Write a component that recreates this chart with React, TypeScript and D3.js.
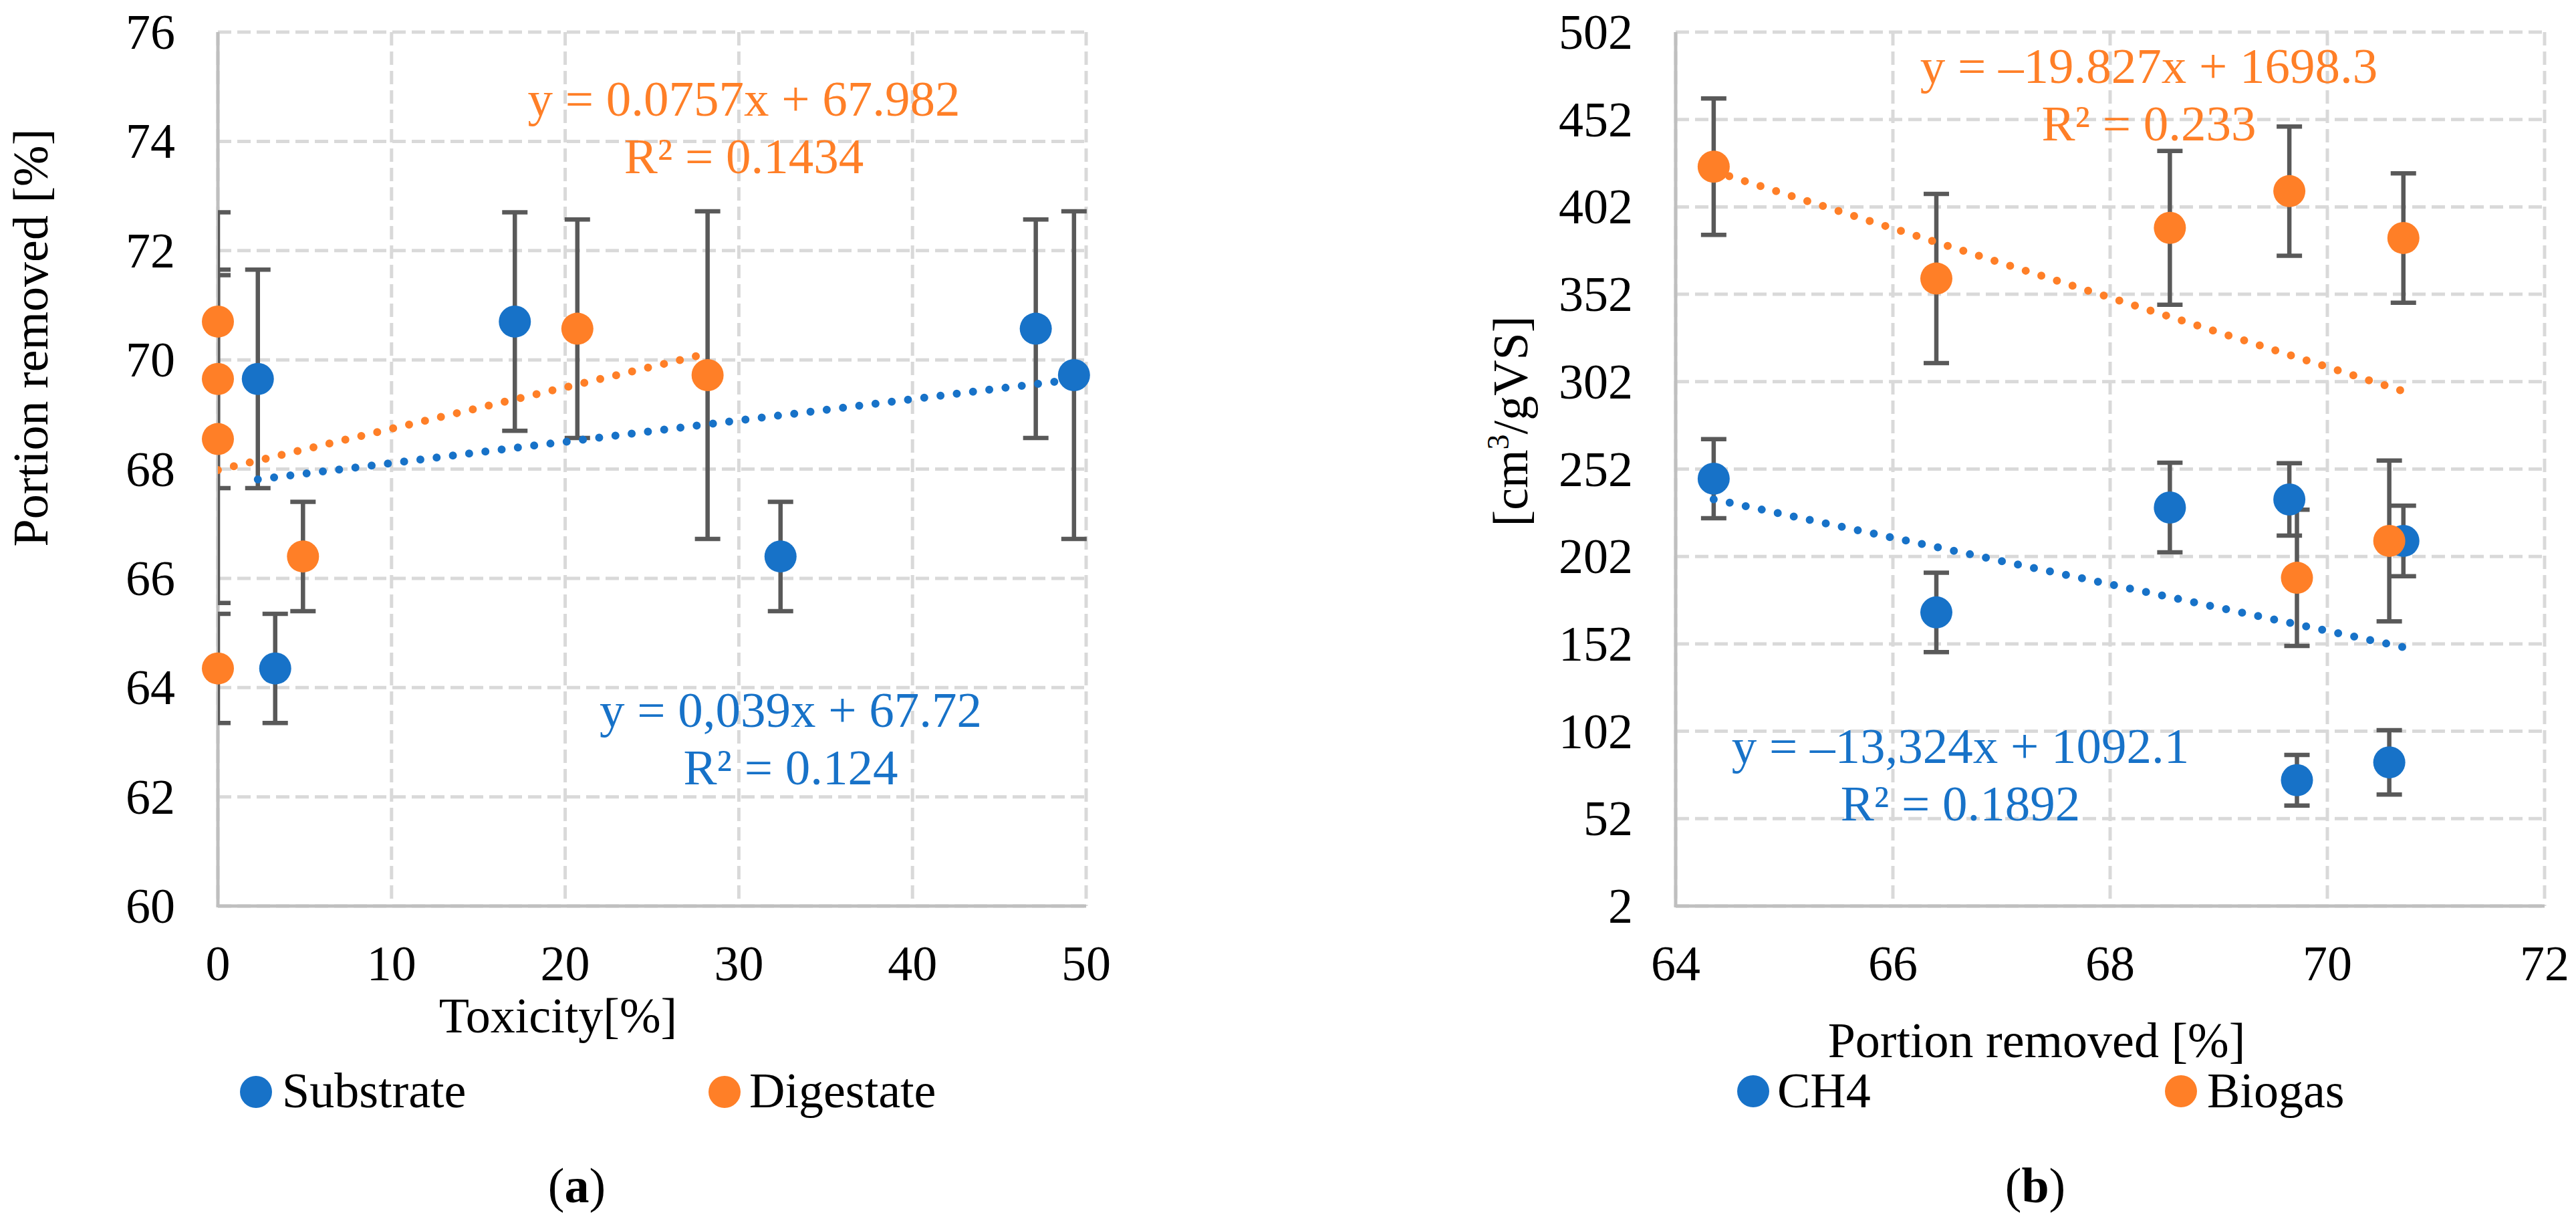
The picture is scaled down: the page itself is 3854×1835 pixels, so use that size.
import * as d3 from 'd3'

const W = 3854
const H = 1835
const FONT = '"Liberation Serif", "Times New Roman", serif'
const BLUE = '#1772c8'
const ORANGE = '#ff7f27'
const ERR_COLOR = '#595959'
const GRID = '#d9d9d9'
const AXIS = '#bfbfbf'

// (a) toxicity vs portion removed
const toxTicks = [0, 10, 20, 30, 40, 50]
const removedTicks = [60, 62, 64, 66, 68, 70, 72, 74, 76]
const substrateTox = [2.3, 3.3, 17.1, 32.4, 47.1, 49.3]
const substrateRemoved = [69.65, 64.35, 70.7, 66.4, 70.57, 69.72]
const substrateErr = [2, 1, 2, 1, 2, 3]
const digestateTox = [0, 0, 0, 0, 4.9, 20.7, 28.2]
const digestateRemoved = [70.7, 69.65, 68.55, 64.35, 66.4, 70.57, 69.72]
const digestateErr = [2, 2, 3, 1, 1, 2, 3]
const substrateFit = [0.039, 67.72]
const digestateFit = [0.0757, 67.982]

// (b) portion removed vs yield
const portionTicks = [64, 66, 68, 70, 72]
const yieldTicks = [2, 52, 102, 152, 202, 252, 302, 352, 402, 452, 502]
const portionRemoved = [64.35, 66.4, 68.55, 69.65, 69.72, 70.57, 70.7]
const ch4Yield = [246.5, 170, 230, 234.6, 74, 84.2, 210.9]
const ch4Err = [22.6, 22.7, 25.6, 20.7, 14.5, 18.4, 20.2]
const biogasYield = [425, 361, 390, 411, 189.8, 210.9, 384.2]
const biogasErr = [39, 48.4, 44, 37, 39, 46, 37]
const ch4Fit = [-13.324, 1092.1]
const biogasFit = [-19.827, 1698.3]

interface Series {
  xs: number[]
  ys: number[]
  errs: number[]
  fit: number[]
  color: string
}

interface PanelProps {
  id: string
  left: number
  right: number
  top: number
  bottom: number
  xTicks: number[]
  yTicks: number[]
  series: Series[]
}

function Panel({ id, left, right, top, bottom, xTicks, yTicks, series }: PanelProps) {
  const x = d3.scaleLinear().domain(d3.extent(xTicks) as [number, number]).range([left, right])
  const y = d3.scaleLinear().domain(d3.extent(yTicks) as [number, number]).range([bottom, top])
  const line = d3.line<[number, number]>().x(d => x(d[0])).y(d => y(d[1]))

  return (
    <g>
      <defs>
        <clipPath id={id}>
          <rect x={left} y={top - 30} width={right - left + 30} height={bottom - top + 30} />
        </clipPath>
      </defs>
      {/* grid */}
      {yTicks.map(t => (
        <line key={'gy' + t} x1={left} x2={right} y1={y(t)} y2={y(t)}
          stroke={GRID} strokeWidth={5} strokeDasharray="20 9" />
      ))}
      {xTicks.map(t => (
        <line key={'gx' + t} x1={x(t)} x2={x(t)} y1={top} y2={bottom}
          stroke={GRID} strokeWidth={5} strokeDasharray="20 9" />
      ))}
      {/* axes */}
      <line x1={left} x2={left} y1={top} y2={bottom + 2} stroke={AXIS} strokeWidth={5} />
      <line x1={left} x2={right} y1={bottom} y2={bottom} stroke={AXIS} strokeWidth={5} />
      {yTicks.map(t => (
        <text key={'ly' + t} x={left - 64} y={y(t) + 25} textAnchor="end"
          fontSize={74} fontFamily={FONT} fill="#000">{t}</text>
      ))}
      {xTicks.map(t => (
        <text key={'lx' + t} x={x(t)} y={bottom + 111} textAnchor="middle"
          fontSize={74} fontFamily={FONT} fill="#000">{t}</text>
      ))}
      {/* error bars */}
      <g clipPath={`url(#${id})`}>
        {series.map((s, si) => s.xs.map((xv, i) => {
          const cx = x(xv)
          const y1 = y(s.ys[i] + s.errs[i])
          const y2 = y(s.ys[i] - s.errs[i])
          return (
            <g key={`e${si}-${i}`} stroke={ERR_COLOR} strokeWidth={6.5}>
              <line x1={cx} x2={cx} y1={y1} y2={y2} />
              <line x1={cx - 19} x2={cx + 19} y1={y1} y2={y1} />
              <line x1={cx - 19} x2={cx + 19} y1={y2} y2={y2} />
            </g>
          )
        }))}
        {/* trendlines */}
        {series.map((s, si) => {
          const [x0, x1] = d3.extent(s.xs) as [number, number]
          const pts: [number, number][] = [[x0, s.fit[0] * x0 + s.fit[1]], [x1, s.fit[0] * x1 + s.fit[1]]]
          return (
            <path key={'t' + si} d={line(pts) ?? ''} fill="none" stroke={s.color}
              strokeWidth={12} strokeDasharray="0 24.5" strokeLinecap="round" />
          )
        })}
      </g>
      {/* markers */}
      {series.map((s, si) => s.xs.map((xv, i) => (
        <circle key={`m${si}-${i}`} cx={x(xv)} cy={y(s.ys[i])} r={24} fill={s.color} />
      )))}
    </g>
  )
}

function Label({ x, y, lines, color }: { x: number; y: number; lines: string[]; color: string }) {
  return (
    <text x={x} y={y} textAnchor="middle" fontSize={75} fontFamily={FONT} fill={color}>
      {lines.map((l, i) => (
        <tspan key={i} x={x} dy={i === 0 ? 0 : 86}>{l}</tspan>
      ))}
    </text>
  )
}

export default function App() {
  const seriesA: Series[] = [
    { xs: substrateTox, ys: substrateRemoved, errs: substrateErr, fit: substrateFit, color: BLUE },
    { xs: digestateTox, ys: digestateRemoved, errs: digestateErr, fit: digestateFit, color: ORANGE },
  ]
  const seriesB: Series[] = [
    { xs: portionRemoved, ys: ch4Yield, errs: ch4Err, fit: ch4Fit, color: BLUE },
    { xs: portionRemoved, ys: biogasYield, errs: biogasErr, fit: biogasFit, color: ORANGE },
  ]

  return (
    <svg width={W} height={H} viewBox={`0 0 ${W} ${H}`}
      style={{ position: 'absolute', left: 0, top: 0, background: '#fff' }}>
      <rect width={W} height={H} fill="#fff" />

      {/* (a) */}
      <Panel id="clipA" left={326} right={1625} top={48} bottom={1355}
        xTicks={toxTicks} yTicks={removedTicks} series={seriesA} />
      <Label x={1113} y={173} lines={['y = 0.0757x + 67.982', 'R² = 0.1434']} color={ORANGE} />
      <Label x={1183} y={1087} lines={['y = 0,039x + 67.72', 'R² = 0.124']} color={BLUE} />
      <text x={835} y={1544} textAnchor="middle" fontSize={74} fontFamily={FONT}>Toxicity[%]</text>
      <text transform="translate(71,505) rotate(-90)" textAnchor="middle" fontSize={74} fontFamily={FONT}>
        Portion removed [%]
      </text>
      <circle cx={383} cy={1633} r={24} fill={BLUE} />
      <text x={422} y={1656} fontSize={74} fontFamily={FONT}>Substrate</text>
      <circle cx={1084} cy={1633} r={24} fill={ORANGE} />
      <text x={1121} y={1656} fontSize={74} fontFamily={FONT}>Digestate</text>
      <text x={863} y={1798} textAnchor="middle" fontSize={74} fontFamily={FONT}>
        (<tspan fontWeight="bold">a</tspan>)
      </text>

      {/* (b) */}
      <Panel id="clipB" left={2507} right={3807} top={48} bottom={1355}
        xTicks={portionTicks} yTicks={yieldTicks} series={seriesB} />
      <Label x={3215} y={124} lines={['y = –19.827x + 1698.3', 'R² = 0.233']} color={ORANGE} />
      <Label x={2933} y={1141} lines={['y = –13,324x + 1092.1', 'R² = 0.1892']} color={BLUE} />
      <text x={3047} y={1581} textAnchor="middle" fontSize={74} fontFamily={FONT}>Portion removed [%]</text>
      <text transform="translate(2285,630) rotate(-90)" textAnchor="middle" fontSize={74} fontFamily={FONT}>
        [cm<tspan fontSize={46} dy={-28}>3</tspan><tspan dy={28}>/gVS]</tspan>
      </text>
      <circle cx={2623} cy={1632} r={24} fill={BLUE} />
      <text x={2659} y={1656} fontSize={74} fontFamily={FONT}>CH4</text>
      <circle cx={3263} cy={1632} r={24} fill={ORANGE} />
      <text x={3302} y={1656} fontSize={74} fontFamily={FONT}>Biogas</text>
      <text x={3045} y={1798} textAnchor="middle" fontSize={74} fontFamily={FONT}>
        (<tspan fontWeight="bold">b</tspan>)
      </text>
    </svg>
  )
}
